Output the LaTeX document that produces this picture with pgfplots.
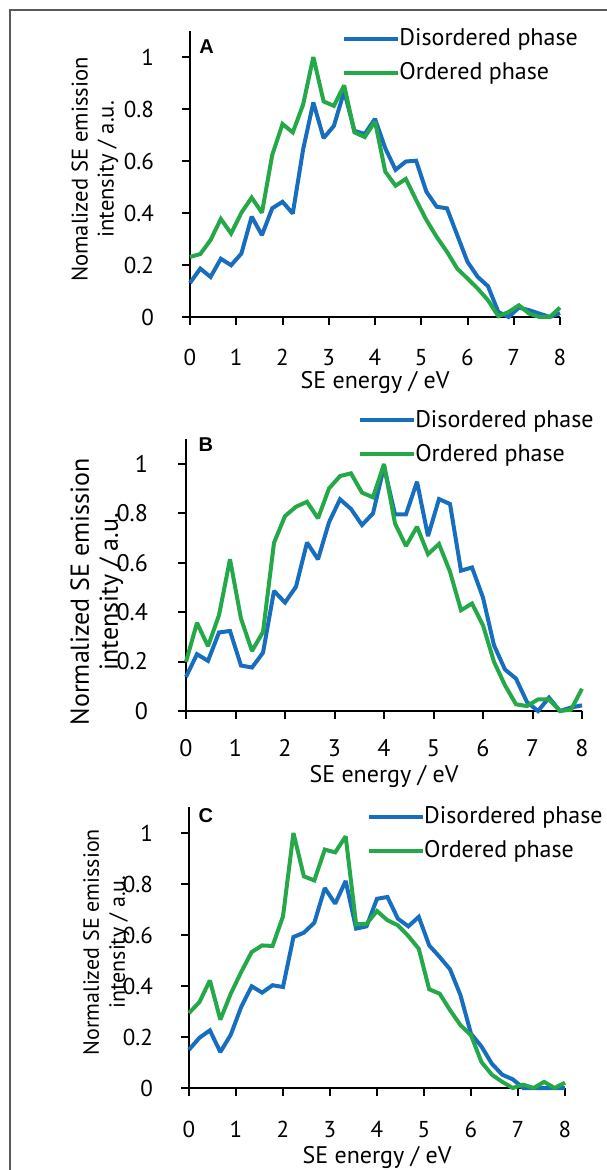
\documentclass[border=0pt]{standalone}
\usepackage{pgfplots}
\pgfplotsset{compat=1.18}
\usepackage{pgfplotstable}
\usepackage{fontspec}
\setmainfont{PT Sans}
\newfontfamily\letterfont{Liberation Sans}
\definecolor{cblue}{RGB}{24,110,190}
\definecolor{cgreen}{RGB}{36,168,72}
\tikzset{letter/.style={font=\letterfont\bfseries\fontsize{10}{12}\selectfont}}

\pgfplotstableread{
x a_dis a_ord b_dis b_ord c_dis c_ord
0.0000 0.131 0.231 0.138 0.199 0.150 0.294
0.2222 0.186 0.242 0.230 0.357 0.197 0.337
0.4444 0.154 0.296 0.203 0.262 0.226 0.422
0.6667 0.224 0.377 0.318 0.388 0.141 0.268
0.8889 0.199 0.321 0.324 0.614 0.209 0.370
1.1111 0.244 0.401 0.184 0.374 0.318 0.455
1.3333 0.386 0.459 0.176 0.243 0.399 0.533
1.5556 0.315 0.401 0.236 0.320 0.374 0.559
1.7778 0.418 0.623 0.486 0.681 0.403 0.557
2.0000 0.443 0.742 0.439 0.789 0.396 0.673
2.2222 0.398 0.710 0.503 0.827 0.592 1.000
2.4444 0.643 0.816 0.682 0.847 0.609 0.830
2.6667 0.825 1.000 0.614 0.780 0.648 0.814
2.8889 0.688 0.829 0.764 0.901 0.784 0.935
3.1111 0.735 0.812 0.857 0.951 0.723 0.924
3.3333 0.868 0.891 0.818 0.962 0.812 0.987
3.5556 0.716 0.710 0.753 0.884 0.625 0.642
3.7778 0.704 0.692 0.800 0.865 0.634 0.644
4.0000 0.762 0.752 0.989 1.000 0.742 0.694
4.2222 0.649 0.559 0.796 0.759 0.749 0.658
4.4444 0.566 0.505 0.796 0.668 0.664 0.638
4.6667 0.598 0.531 0.928 0.746 0.634 0.596
4.8889 0.601 0.450 0.708 0.635 0.671 0.546
5.1111 0.482 0.373 0.858 0.676 0.559 0.387
5.3333 0.424 0.308 0.838 0.564 0.514 0.370
5.5556 0.418 0.251 0.568 0.408 0.465 0.305
5.7778 0.315 0.186 0.581 0.435 0.363 0.246
6.0000 0.212 0.148 0.459 0.347 0.213 0.207
6.2222 0.154 0.109 0.266 0.199 0.163 0.102
6.4444 0.118 0.064 0.168 0.104 0.095 0.052
6.6667 0.019 0.003 0.131 0.027 0.052 0.024
6.8889 0.000 0.019 0.036 0.020 0.034 0.000
7.1111 0.036 0.045 0.000 0.047 0.000 0.013
7.3333 0.026 0.013 0.054 0.047 0.000 0.000
7.5556 0.013 0.000 0.000 0.000 0.000 0.024
7.7778 0.000 0.000 0.014 0.005 0.000 0.000
8.0000 0.015 0.036 0.023 0.090 0.000 0.021
}\data

\pgfplotsset{
  panel/.style={
    scale only axis,
    anchor=south west,
    xmin=0, xmax=8, ymin=0, ymax=1.1,
    axis lines*=left,
    axis line style={line width=1pt, black},
    tick align=outside,
    major tick length=4pt,
    tick style={line width=1pt, black},
    xtick={0,1,2,3,4,5,6,7,8},
    ytick={0,0.2,0.4,0.6,0.8,1},
    yticklabels={0,0.2,0.4,0.6,0.8,1},
    tick label style={font=\fontsize{11.5}{13}\selectfont},
    /pgf/number format/assume math mode=true,
    label style={font=\fontsize{12}{14}\selectfont},
    xlabel={SE energy / eV},
    ylabel style={align=center},
    legend style={draw=none, fill=none, inner sep=0pt, row sep=4pt,
      font=\fontsize{12}{14}\selectfont, anchor=north west,
      nodes={inner sep=1.5pt}},
    legend cell align=left,
    legend image code/.code={\draw[##1, line width=2pt] (0pt,0pt) -- (27pt,0pt);},
    clip=false,
  },
  dis/.style={cblue, line width=2pt, line join=miter, miter limit=2},
  ord/.style={cgreen, line width=2pt, line join=miter, miter limit=2},
}
\newcommand\legtxt[1]{\hspace*{-2pt}#1}

\begin{document}
\begin{tikzpicture}
\useasboundingbox (0,0) rectangle (303pt,585pt);
\draw[line width=0.6pt, black!65] (5pt,0pt) -- (5pt,580pt) -- (310pt,580pt);

% Panel A
\begin{axis}[panel, at={(95pt,426.5pt)}, width=185pt, height=143pt,
  xticklabel style={yshift=-8.5pt},
  yticklabel style={xshift=-10.5pt},
  ylabel={Nomalized SE emission\\intensity / a.u.},
  xlabel style={at={(axis description cs:0.5,-0.228)}, anchor=center},
  ylabel style={at={(axis description cs:-0.257,0.516)}, anchor=center,
    font=\fontsize{11.3}{13}\selectfont},
  legend style={at={(axis description cs:0.411,1.02)}}]
\addplot[dis] table[x=x, y=a_dis] {\data};
\addplot[ord] table[x=x, y=a_ord] {\data};
\legend{\legtxt{Disordered phase}, \legtxt{Ordered phase}}
\node[letter] at (axis description cs:0.045,0.947) {A};
\end{axis}

% Panel B
\begin{axis}[panel, at={(93pt,229.5pt)}, width=198pt, height=135.85pt,
  tick label style={font=\fontsize{12}{14}\selectfont},
  xticklabel style={inner sep=0.5pt, yshift=-9.5pt},
  yticklabel style={xshift=-11.5pt},
  ylabel={Normalized SE emission\\intensity / a.u.},
  xlabel style={at={(axis description cs:0.5,-0.24)}, anchor=center, inner sep=0pt},
  ylabel style={at={(axis description cs:-0.225,0.439)}, anchor=center,
    font=\fontsize{13}{14.5}\selectfont},
  legend style={at={(axis description cs:0.434,1.12)}}]
\addplot[dis] table[x=x, y=b_dis] {\data};
\addplot[ord] table[x=x, y=b_ord] {\data};
\legend{\legtxt{Disordered phase}, \legtxt{Ordered phase}}
\node[letter] at (axis description cs:0.05,0.98) {B};
\end{axis}

% Panel C
\begin{axis}[panel, at={(94.5pt,41pt)}, width=188pt, height=140.25pt,
  xticklabel style={yshift=-9pt},
  yticklabel style={xshift=-10.5pt},
  ylabel={Normalized SE emission\\intensity / a.u.},
  xlabel style={at={(axis description cs:0.5,-0.246)}, anchor=center},
  ylabel style={at={(axis description cs:-0.22,0.52)}, anchor=center,
    font=\fontsize{11}{13}\selectfont},
  legend style={at={(axis description cs:0.473,1.015)}}]
\addplot[dis] table[x=x, y=c_dis] {\data};
\addplot[ord] table[x=x, y=c_ord] {\data};
\legend{\legtxt{Disordered phase}, \legtxt{Ordered phase}}
\node[letter] at (axis description cs:0.045,0.971) {C};
\end{axis}
\end{tikzpicture}
\end{document}
